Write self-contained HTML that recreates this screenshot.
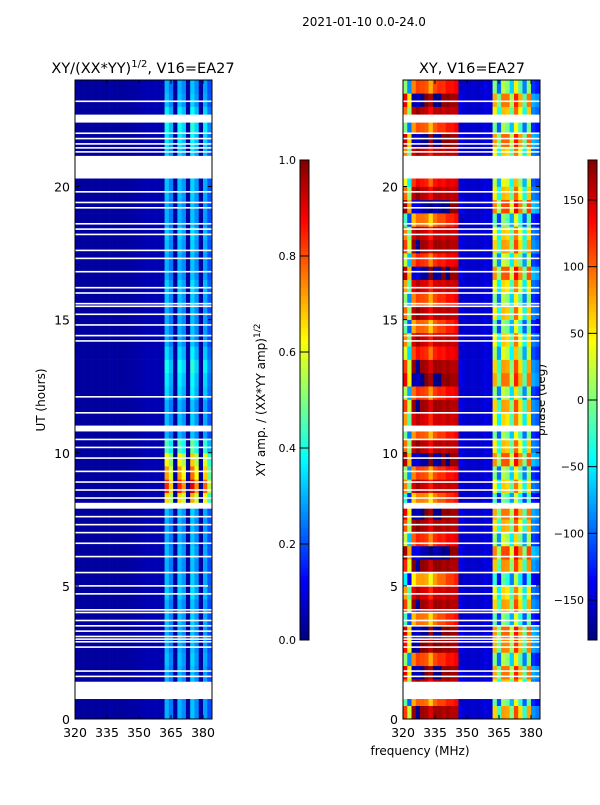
<!DOCTYPE html>
<html><head><meta charset="utf-8"><style>
body{margin:0;background:#fff;}
svg text{font-family:"DejaVu Sans","Liberation Sans",sans-serif;fill:#000;}
</style></head><body>
<svg id="fig" width="600" height="800" xmlns="http://www.w3.org/2000/svg">
<text x="364" y="26" font-size="12" text-anchor="middle">2021-01-10 0.0-24.0</text>
<text x="143" y="73" font-size="14.5" text-anchor="middle">XY/(XX*YY)<tspan font-size="10" dy="-6">1/2</tspan><tspan dy="6">, V16=EA27</tspan></text>
<text x="472" y="73" font-size="14.5" text-anchor="middle">XY, V16=EA27</text>
<text transform="translate(45,400) rotate(-90)" font-size="12" text-anchor="middle">UT (hours)</text>
<text transform="translate(265,400) rotate(-90)" font-size="12" text-anchor="middle">XY amp. / (XX*YY amp)<tspan font-size="9" dy="-5">1/2</tspan></text>
<text transform="translate(545,400) rotate(-90)" font-size="12" text-anchor="middle">phase (deg)</text>
<text x="420" y="755" font-size="12" text-anchor="middle">frequency (MHz)</text>
<g id="layer"></g>
</svg>
<script>
const freqs=[320,322,324,326,328,330,332,334,336,338,340,342,344,346,348,350,352,354,356,358,360,362,364,366,368,370,372,374,376,378,380,382];
const hours=[];for(let i=0;i<48;i++)hours.push(i*0.5);
const ampCol=[0.03,0.03,0.03,0.03,0.03,0.03,0.03,0.03,0.035,0.03,0.03,0.03,0.035,0.035,0.04,0.045,0.05,0.05,0.05,0.05,0.045,0.3,0.24,0.03,0.3,0.26,0.03,0.32,0.26,0.03,0.28,0.2];
const ampRow=[1,1,1,1,1.05,1,1,1.05,1,1.1,1.05,1,1.05,1,1,1.05,2.2,2.8,2.4,2.1,1.5,1,1.05,1,1.15,1.2,1.3,1.15,1,1,1,1.05,1.1,1,1,1.05,1.1,1,1,1.05,1.05,1,1.1,1.2,1.3,1.2,1.05,1];
const phCol=[60,-30,130,150,140,135,110,140,145,140,150,145,150,-150,-150,-155,-150,-155,-150,-145,-150,30,-60,50,40,-30,80,20,-60,40,-100,-110];
const phW=[0.9,0.9,0.7,0.6,0.5,0.5,0.6,0.5,0.4,0.35,0.3,0.25,0.2,0.1,0,0,0,0,0,0,0,0.5,0.6,0.5,0.6,0.5,0.5,0.6,0.5,0.6,0.3,0.3];
const phRow=[60,-80,40,90,-60,80,100,-90,60,20,-120,70,120,-40,50,90,-100,30,-60,110,40,-70,20,60,-50,90,60,-30,30,-80,40,-60,20,110,-40,60,30,-90,120,40,-20,70,30,100,-70,40,90,-60];
const flagBands=[[0.75,1.4],[7.9,8.12],[10.8,11.02],[20.3,21.15],[22.4,22.7]];
const flagLines=[1.6,1.8,2.7,2.9,3.0,3.1,3.3,3.5,3.7,4.0,4.1,4.7,5.0,5.5,6.1,6.6,7.0,7.3,7.6,8.3,8.6,8.9,9.3,9.8,10.2,10.5,11.5,12.1,14.2,14.4,14.8,15.2,15.5,15.6,16.0,16.2,16.8,17.3,17.6,18.2,18.4,18.6,19.2,19.4,19.8,21.3,21.45,21.6,21.8,22.0,23.2];
const xTicks=[320,335,350,365,380];
const yTicks=[0,5,10,15,20];
const ampTicks=[0.0,0.2,0.4,0.6,0.8,1.0];
const phTicks=[-150,-100,-50,0,50,100,150];

const NS="http://www.w3.org/2000/svg";
const layer=document.getElementById('layer');
function el(t,a,p){const e=document.createElementNS(NS,t);for(const k in a)e.setAttribute(k,a[k]);(p||layer).appendChild(e);return e;}
function jet(v){v=Math.max(0,Math.min(1,v));const r=Math.max(0,Math.min(1,1.5-Math.abs(4*v-3))),g=Math.max(0,Math.min(1,1.5-Math.abs(4*v-2))),b=Math.max(0,Math.min(1,1.5-Math.abs(4*v-1)));return `rgb(${Math.round(r*255)},${Math.round(g*255)},${Math.round(b*255)})`;}
const yS=h=>719-h*(719-80)/24;
const xS=(x0,f)=>x0+(f-320)*(203-75)/60;
const cbA=v=>640-v*480;
const cbP=v=>400-v*(4/3);

function panel(x0,name,valFn){
  const g=el('g',{});
  
  
  for(let i=0;i<hours.length;i++){for(let j=0;j<freqs.length;j++){
    const x=xS(x0,freqs[j]),y=yS(hours[i]+0.5);
    const r=el('rect',{x:x,y:y,width:xS(x0,freqs[j]+2)-x+0.3,height:yS(hours[i])-y+0.3,fill:valFn(i,j)},g);
    
    
  }}
  for(const b of flagBands){const r=el('rect',{x:x0,y:yS(b[1]),width:137,height:yS(b[0])-yS(b[1]),fill:'#fff'},g);
    }
  for(const h of flagLines){const r=el('rect',{x:x0,y:yS(h)-0.8,width:137,height:1.6,fill:'#fff'},g);
    }
  const fr=el('rect',{x:x0,y:80,width:137,height:639,fill:'none',stroke:'#000','stroke-width':1},g);
  
  for(const t of xTicks){const x=xS(x0,t);el('line',{x1:x,x2:x,y1:719,y2:715,stroke:'#000'},g);el('line',{x1:x,x2:x,y1:80,y2:84,stroke:'#000'},g);
    const tx=el('text',{x:x,y:737,'font-size':12.5,'text-anchor':'middle'},g);tx.textContent=t;
    }
  for(const t of yTicks){const y=yS(t);el('line',{x1:x0,x2:x0+4,y1:y,y2:y,stroke:'#000'},g);el('line',{x1:x0+137,x2:x0+133,y1:y,y2:y,stroke:'#000'},g);
    const tx=el('text',{x:x0-5,y:y+5,'font-size':12.5,'text-anchor':'end'},g);tx.textContent=t;
    }
}
panel(75,'amplitude-heatmap',(i,j)=>{const c=ampCol[j];return jet(c<0.1?c:c*ampRow[i]);});
panel(403,'phase-heatmap',(i,j)=>{let v=phCol[j]+phRow[i]*phW[j];while(v>180)v-=360;while(v<-180)v+=360;return jet((v+180)/360);});

function cbar(x,name,ticks,sc,norm){
  const g=el('g',{});
  
  
  for(let k=0;k<120;k++){el('rect',{x:x,y:640-(k+1)*4,width:9,height:4.3,fill:jet((k+0.5)/120)},g);}
  el('rect',{x:x,y:160,width:9,height:480,fill:'none',stroke:'#000'},g);
  for(const t of ticks){const y=sc(t);el('line',{x1:x,x2:x+9,y1:y,y2:y,stroke:'#000'},g);
    const tx=el('text',{x:x-4,y:y+4,'font-size':11,'text-anchor':'end'},g);tx.textContent=norm(t);
    }
}
cbar(300,'colorbar-amplitude',ampTicks,cbA,t=>t.toFixed(1));
cbar(588,'colorbar-phase',phTicks,cbP,t=>t<0?'\u2212'+(-t):String(t));
</script>
</body></html>
